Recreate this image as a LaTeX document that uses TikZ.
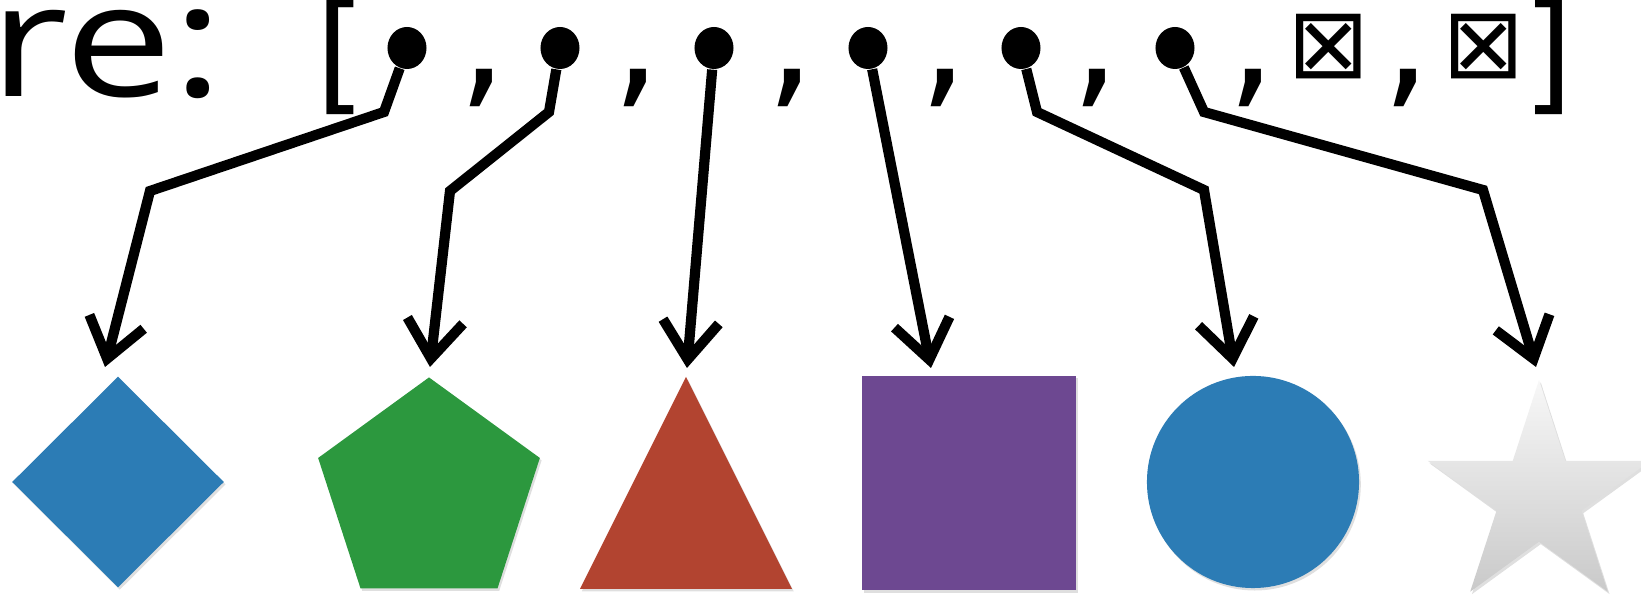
\documentclass[tikz,border=0pt]{standalone}
\usepackage{fontspec}
\setmainfont{Open Sans}
\newfontfamily\listfont{DejaVu Sans Mono}
\newfontfamily\boxfont{DejaVu Sans}
\usetikzlibrary{arrows.meta,shapes.geometric,shadows}

\definecolor{feltblue}{RGB}{44,124,181}
\definecolor{feltgreen}{RGB}{44,152,62}
\definecolor{feltred}{RGB}{178,68,48}
\definecolor{feltpurple}{RGB}{109,72,145}

\begin{document}
\begin{tikzpicture}[x=0.01cm,y=-0.01cm,
  pin/.style={line width=2.9pt,-{Straight Barb[length=3.8mm,width=5.6mm]}},
  dot/.style={ellipse,fill=black,inner sep=0pt,minimum width=0.39cm,minimum height=0.42cm},
  sym/.style={inner sep=0pt,font=\listfont\fontsize{37}{37}\selectfont},
  felt/.style={inner sep=0pt,drop shadow={opacity=0.25,shadow xshift=0.5pt,shadow yshift=-0.7pt}}]
  \useasboundingbox (0,0) rectangle (1641,595);

  \node[anchor=base west,inner sep=0pt,font=\fontsize{45}{45}\selectfont] (lbl) at (-11,97) {\scalebox{1.22}[1]{re:}};

  \node[sym] (lb) at (337,57) {[};
  \foreach \x [count=\i] in {484,638,792,945,1097,1253,1408}
    \node[sym] (c\i) at (\x,88) {,};
  \node[sym,font=\boxfont\fontsize{28}{28}\selectfont] (x1) at (1329,47) {⊠};
  \node[sym,font=\boxfont\fontsize{28}{28}\selectfont] (x2) at (1484,47) {⊠};
  \node[sym] (rb) at (1553,57) {]};

  \node[dot] (d1) at (407,48) {};
  \node[dot] (d2) at (560,48) {};
  \node[dot] (d3) at (714,48) {};
  \node[dot] (d4) at (868,48) {};
  \node[dot] (d5) at (1021,48) {};
  \node[dot] (d6) at (1175,48) {};

  \node[felt,diamond,fill=feltblue,minimum width=2.12cm,minimum height=2.11cm] (s1) at (118,482) {};
  \node[felt,regular polygon,regular polygon sides=5,fill=feltgreen,minimum size=2.33cm] (s2) at (429,494) {};
  \fill[feltred,drop shadow={opacity=0.25,shadow xshift=0.5pt,shadow yshift=-0.7pt}]
    (686,377) coordinate (s3) -- (580,589) -- (792,589) -- cycle;
  \node[felt,rectangle,fill=feltpurple,minimum size=2.14cm] (s4) at (969,483) {};
  \node[felt,circle,fill=feltblue,minimum size=2.12cm] (s5) at (1253,482) {};
  \node[felt,star,star points=5,star point ratio=2.62,minimum size=2.34cm,
    top color=gray!6,bottom color=gray!42] (s6) at (1539,497) {};

  \coordinate (t1) at (105,367);
  \coordinate (t2) at (430,367);
  \coordinate (t3) at (687,368);
  \coordinate (t4) at (931,368);
  \coordinate (t5) at (1234,367);
  \coordinate (t6) at (1536,367);

  \draw[pin] (d1) -- (384,112) -- (150,191) -- (t1);
  \draw[pin] (d2) -- (549,112) -- (450,191) -- (t2);
  \draw[pin] (d3) -- (t3);
  \draw[pin] (d4) -- (t4);
  \draw[pin] (d5) -- (1037,112) -- (1204,190) -- (t5);
  \draw[pin] (d6) -- (1204,112) -- (1483,190) -- (t6);
\end{tikzpicture}
\end{document}
